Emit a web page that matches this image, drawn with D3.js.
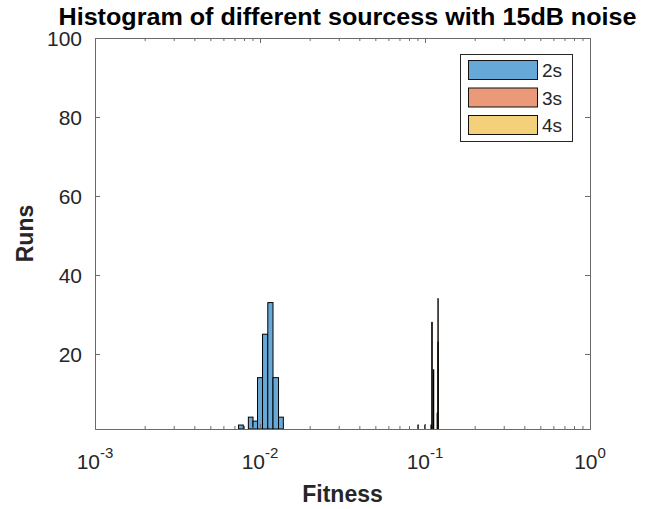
<!DOCTYPE html>
<html>
<head>
<meta charset="utf-8">
<script src="https://cdn.jsdelivr.net/npm/d3@7"></script>
<style>
body{margin:0;background:#fff;}
text{font-family:"Liberation Sans",Arial,Helvetica,sans-serif;}
</style>
</head>
<body>
<script>
// ---- data ----
const seriesNames = ["2s", "3s", "4s"];
const seriesColors = ["#66a9d8", "#ea9a78", "#f5d07b"];
// 2s histogram: bin edges (Fitness) and counts
const s2Edges = [0.00693, 0.00741, 0.00792, 0.00850, 0.00907, 0.00966, 0.01036, 0.01115, 0.01199, 0.01295, 0.01385];
const s2Counts = [1, 2, 0, 4, 3, 14, 25, 33, 14, 4];
// 3s histogram: bin low/high edges and counts
const s3Lo = [0.0905, 0.0997, 0.1086, 0.1098, 0.1196];
const s3Hi = [0.0911, 0.1003, 0.1094, 0.1107, 0.1206];
const s3Counts = [2, 2, 2, 28, 23];
// 4s histogram
const s4Lo = [0.1122, 0.1184, 0.1197];
const s4Hi = [0.1130, 0.1194, 0.1203];
const s4Counts = [16, 5, 34];
const xTicks = [1e-3, 1e-2, 1e-1, 1];
const xTickExp = ["-3", "-2", "-1", "0"];
const yTicks = [20, 40, 60, 80, 100];
const titleText = "Histogram of different sourcess with 15dB noise";
const xLabel = "Fitness";
const yLabel = "Runs";

// ---- layout ----
const W = 651, H = 509;
const L = 95, R = 590, T = 38, B = 429;
const axisColor = "#6a6a6a";
const textColor = "#262626";

const svg = d3.select("body").append("svg").attr("width", W).attr("height", H);

const x = d3.scaleLog().domain([1e-3, 1]).range([L, R]);
const y = d3.scaleLinear().domain([1, 100]).range([B, T]);

svg.append("defs").append("clipPath").attr("id", "clip")
  .append("rect").attr("x", L).attr("y", T).attr("width", R - L).attr("height", B - T);

const plot = svg.append("g").attr("clip-path", "url(#clip)");

function bins(lo, hi, counts) {
  return counts.map((c, i) => ({lo: lo[i], hi: hi[i], c}));
}
const s2 = bins(s2Edges.slice(0, -1), s2Edges.slice(1), s2Counts);
const s3 = bins(s3Lo, s3Hi, s3Counts);
const s4 = bins(s4Lo, s4Hi, s4Counts);
const allSeries = [s2, s3, s4];

allSeries.forEach((s, si) => {
  plot.append("g").selectAll("rect").data(s.filter(d => d.c > 0)).join("rect")
    .attr("x", d => x(d.lo))
    .attr("width", d => x(d.hi) - x(d.lo))
    .attr("y", d => y(d.c))
    .attr("height", d => y(1) - y(d.c))
    .attr("fill", seriesColors[si])
    .attr("stroke", "#000")
    .attr("stroke-width", 1);
});

// ---- axes ----
const minor = [];
for (let e = -3; e < 0; e++) for (let m = 2; m <= 9; m++) minor.push(m * Math.pow(10, e));

function styleAxis(g) {
  g.select(".domain").attr("stroke", axisColor);
  g.selectAll(".tick line").attr("stroke", axisColor);
}
const gxb = svg.append("g").attr("transform", `translate(0,${B})`)
  .call(d3.axisBottom(x).tickValues(xTicks).tickSize(-5).tickSizeOuter(0).tickFormat(() => ""));
styleAxis(gxb);
const gxbm = svg.append("g").attr("transform", `translate(0,${B})`)
  .call(d3.axisBottom(x).tickValues(minor).tickSize(-3).tickSizeOuter(0).tickFormat(() => ""));
styleAxis(gxbm);
const gxt = svg.append("g").attr("transform", `translate(0,${T})`)
  .call(d3.axisTop(x).tickValues(xTicks).tickSize(-5).tickSizeOuter(0).tickFormat(() => ""));
styleAxis(gxt);
const gxtm = svg.append("g").attr("transform", `translate(0,${T})`)
  .call(d3.axisTop(x).tickValues(minor).tickSize(-3).tickSizeOuter(0).tickFormat(() => ""));
styleAxis(gxtm);
const gyl = svg.append("g").attr("transform", `translate(${L},0)`)
  .call(d3.axisLeft(y).tickValues(yTicks).tickSize(-5).tickSizeOuter(0).tickPadding(13));
styleAxis(gyl);
gyl.selectAll(".tick text").attr("fill", textColor).style("font-size", "21px")
  .style("font-family", "Liberation Sans, Arial, sans-serif").attr("dy", "0.36em");
const gyr = svg.append("g").attr("transform", `translate(${R},0)`)
  .call(d3.axisRight(y).tickValues(yTicks).tickSize(-5).tickSizeOuter(0).tickFormat(() => ""));
styleAxis(gyr);

// x tick labels with superscripts
const xl = svg.append("g");
xTicks.forEach((v, i) => {
  const t = xl.append("text").attr("x", x(v)).attr("y", 469)
    .attr("text-anchor", "middle").attr("fill", textColor).style("font-size", "21px");
  t.append("tspan").text("10");
  t.append("tspan").attr("dy", -11).style("font-size", "15px").text(xTickExp[i]);
});

// title and labels
svg.append("text").attr("x", 347.5).attr("y", 25).attr("text-anchor", "middle")
  .attr("fill", "#000").style("font-size", "23px").style("font-weight", "bold")
  .attr("textLength", 578).attr("lengthAdjust", "spacingAndGlyphs").text(titleText);
svg.append("text").attr("x", (L + R) / 2).attr("y", 502).attr("text-anchor", "middle")
  .attr("fill", textColor).style("font-size", "23px").style("font-weight", "bold").text(xLabel);
svg.append("text").attr("transform", `translate(33,${(T + B) / 2}) rotate(-90)`)
  .attr("text-anchor", "middle").attr("fill", textColor)
  .style("font-size", "23px").style("font-weight", "bold").text(yLabel);

// legend
const lg = svg.append("g");
lg.append("rect").attr("x", 460.5).attr("y", 54.5).attr("width", 112).attr("height", 87)
  .attr("fill", "#fff").attr("stroke", "#262626").attr("stroke-width", 1);
seriesNames.forEach((n, i) => {
  const yy = 60.5 + i * 27.5;
  lg.append("rect").attr("x", 468.5).attr("y", yy).attr("width", 69).attr("height", 19)
    .attr("fill", seriesColors[i]).attr("stroke", "#111").attr("stroke-width", 1);
  lg.append("text").attr("x", 542).attr("y", yy + 16.5).attr("fill", textColor)
    .style("font-size", "19px").text(n);
});
</script>
</body>
</html>
